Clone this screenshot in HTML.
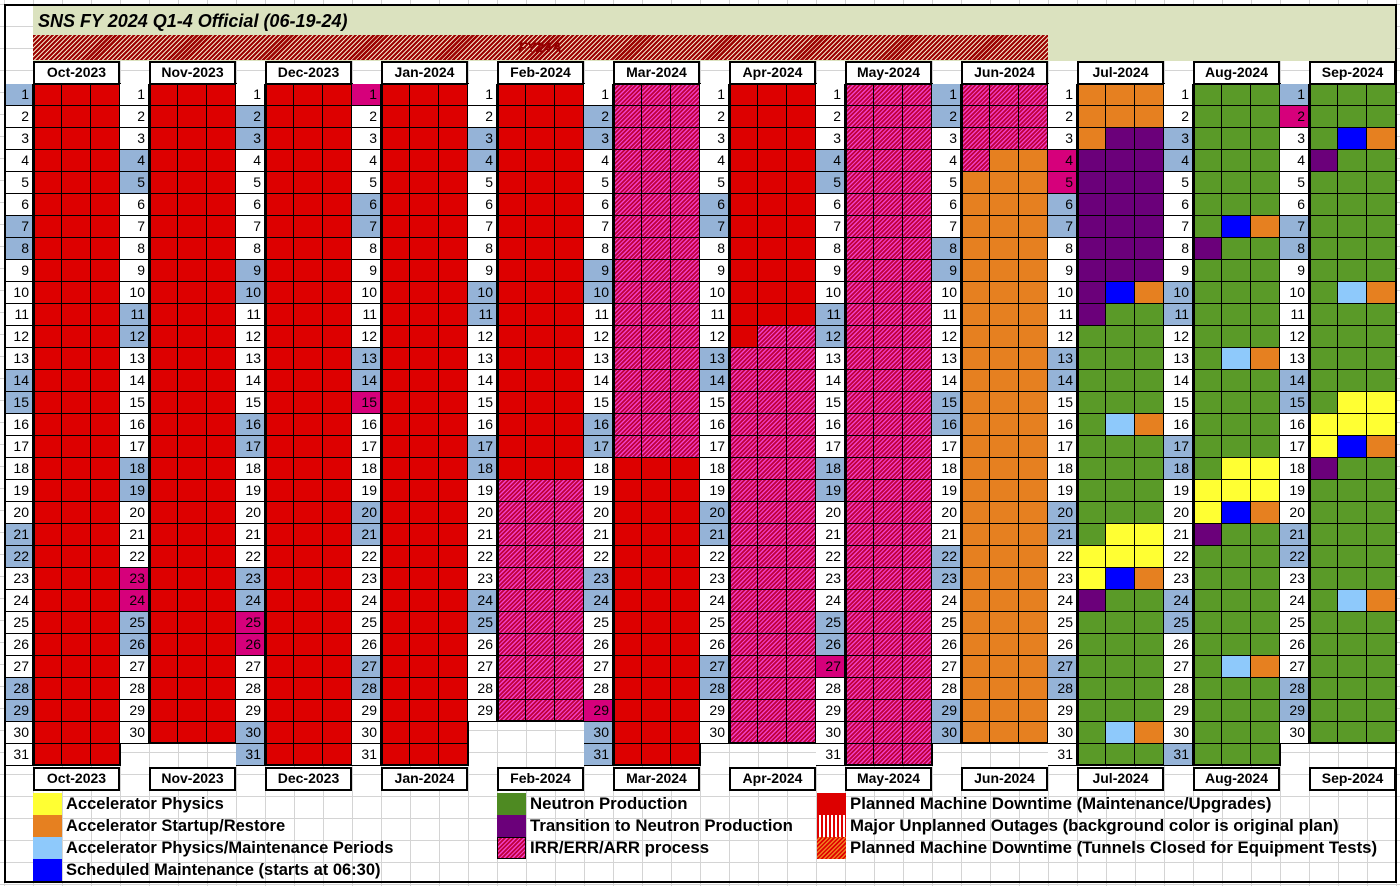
<!DOCTYPE html>
<html><head><meta charset="utf-8"><style>
body{margin:0;width:1400px;height:886px;background:#fff;position:relative;overflow:hidden;font-family:"Liberation Sans",Arial,sans-serif;}
.a{position:absolute;box-sizing:border-box;}
.irr{background:repeating-linear-gradient(135deg,#f040c8 0 1.2px,#c0003c 1.2px 3px);}
.hd{background:#fff;border:2px solid #000;font-weight:bold;font-size:14px;text-align:center;line-height:19px;}
.lg{font-weight:bold;font-size:16.5px;line-height:22px;white-space:nowrap;}
</style></head><body>
<div id="root"></div>
<script>
const root=document.getElementById('root');
function d(x,y,w,h,css,txt){const e=document.createElement('div');e.className='a';e.style.cssText=`left:${x}px;top:${y}px;width:${w}px;height:${h}px;`+(css||'');if(txt!==undefined)e.innerHTML=txt;root.appendChild(e);return e;}
d(0,0,1400,886,'background-image:linear-gradient(90deg,#d4d4d4 1px,transparent 1px),linear-gradient(#d4d4d4 1px,transparent 1px);background-size:29px 22px;background-position:4px 4px;');
d(33,4,1363,57,'background:#dbe2bf;');
d(38,8,600,26,'font-weight:bold;font-style:italic;font-size:18px;line-height:26px;','SNS FY 2024 Q1-4 Official (06-19-24)');
d(33,35,1015,25,'background:repeating-linear-gradient(135deg,#9b0000 0 2.2px,#f4e6c8 2.2px 3.2px);');
d(480,37,120,20,'font-weight:bold;font-style:italic;font-size:14px;color:#900000;text-align:center;line-height:20px;','FY24A');
const C={R:'#dd0000',O:'#e68020',G:'#5a9a28',P:'#6b007a',B:'#0000ff',L:'#8ec9fb',Y:'#ffff33'};
const months=[['Oct-2023',2023,9],['Nov-2023',2023,10],['Dec-2023',2023,11],['Jan-2024',2024,0],['Feb-2024',2024,1],['Mar-2024',2024,2],['Apr-2024',2024,3],['May-2024',2024,4],['Jun-2024',2024,5],['Jul-2024',2024,6],['Aug-2024',2024,7],['Sep-2024',2024,8]];
const hol={'0-1':1,'2-23':1,'2-24':1,'3-25':1,'3-26':1,'4-1':1,'4-15':1,'6-29':1,'8-27':1,'10-4':1,'10-5':1,'12-2':1};
function cellSpec(m,day){
 const all=s=>[s,s,s];
 if(m<=3) return all('R');
 if(m==4) return day<=18?all('R'):all('I');
 if(m==5) return day<=17?all('I'):all('R');
 if(m==6){if(day<=11)return all('R');if(day==12)return['R','I','I'];return all('I');}
 if(m==7) return all('I');
 if(m==8){if(day<=3)return all('I');if(day==4)return['I','O','O'];return all('O');}
 const sp={};
 if(m==9){
  if(day<=2)return all('O');if(day==3)return['O','P','P'];if(day<=9)return all('P');
  Object.assign(sp,{10:'PBO',11:'PGG',16:'GLO',21:'GYY',22:'YYY',23:'YBO',24:'PGG',30:'GLO'});
 }
 if(m==10) Object.assign(sp,{7:'GBO',8:'PGG',13:'GLO',18:'GYY',19:'YYY',20:'YBO',21:'PGG',27:'GLO'});
 if(m==11) Object.assign(sp,{3:'GBO',4:'PGG',10:'GLO',15:'GYY',16:'YYY',17:'YBO',18:'PGG',24:'GLO'});
 if(sp[day])return sp[day].split('');
 return all('G');
}
const T0=84,RH=22;
months.forEach((mo,i)=>{
 const x0=4+116*i, cx=33+116*i;
 const nd=new Date(mo[1],mo[2]+1,0).getDate();
 const a=d(cx,61,87,24);a.className='a hd';a.textContent=mo[0];
 const b=d(cx,767,87,24);b.className='a hd';b.textContent=mo[0];
 for(let day=1;day<=nd;day++){
  const y=T0+(day-1)*RH;
  const wd=new Date(mo[1],mo[2],day).getDay();
  let bg='#fff';
  if(wd==0||wd==6)bg='#95b3d7';
  if(hol[(i+1)+'-'+day])bg='#d6007b';
  d(x0,y,29,RH,`background:${bg};border-right:1px solid #000;border-bottom:1px solid #000;font-size:14px;text-align:right;padding-right:3px;line-height:21px;`,day);
  cellSpec(i,day).forEach((s,k)=>{
   const e=d(cx+29*k,y,29,RH,'border-right:1px solid #000;border-bottom:1px solid #000;'+(s=='I'?'':`background:${C[s]};`));
   if(s=='I')e.classList.add('irr');
  });
 }
 d(cx,T0-1,88,nd*RH+1,'border:2px solid #000;');
});
d(4,4,1393,879,'border:2px solid #000;');
d(4,4,2,879,'background:#000;');
const L=[[33,792,C.Y,'Accelerator Physics'],[33,814,C.O,'Accelerator Startup/Restore'],[33,836,C.L,'Accelerator Physics/Maintenance Periods'],[33,858,C.B,'Scheduled Maintenance (starts at 06:30)'],
[497,792,'#4e8a22','Neutron Production'],[497,814,C.P,'Transition to Neutron Production'],[497,836,'IRR','IRR/ERR/ARR process'],
[817,792,C.R,'Planned Machine Downtime (Maintenance/Upgrades)'],[817,814,'UNP','Major Unplanned Outages (background color is original plan)'],[817,836,'TUN','Planned Machine Downtime (Tunnels Closed for Equipment Tests)']];
L.forEach(([x,y,c,t])=>{
 let css;
 if(c=='IRR')css='border:1px solid #000;background:repeating-linear-gradient(135deg,#f040c8 0 1.2px,#c0003c 1.2px 3px);';
 else if(c=='UNP')css='background:repeating-linear-gradient(90deg,#e00000 0 2px,#fff 2px 4px);';
 else if(c=='TUN')css='background:repeating-linear-gradient(135deg,#e00000 0 1.5px,#f08020 1.5px 3px);';
 else css=`background:${c};`;
 d(x,y+1,29,22,css);
 const e=d(x+33,y+1,600,22,x>400?'font-size:16.8px;':'');e.className='a lg';e.textContent=t;
});
</script>
</body></html>
